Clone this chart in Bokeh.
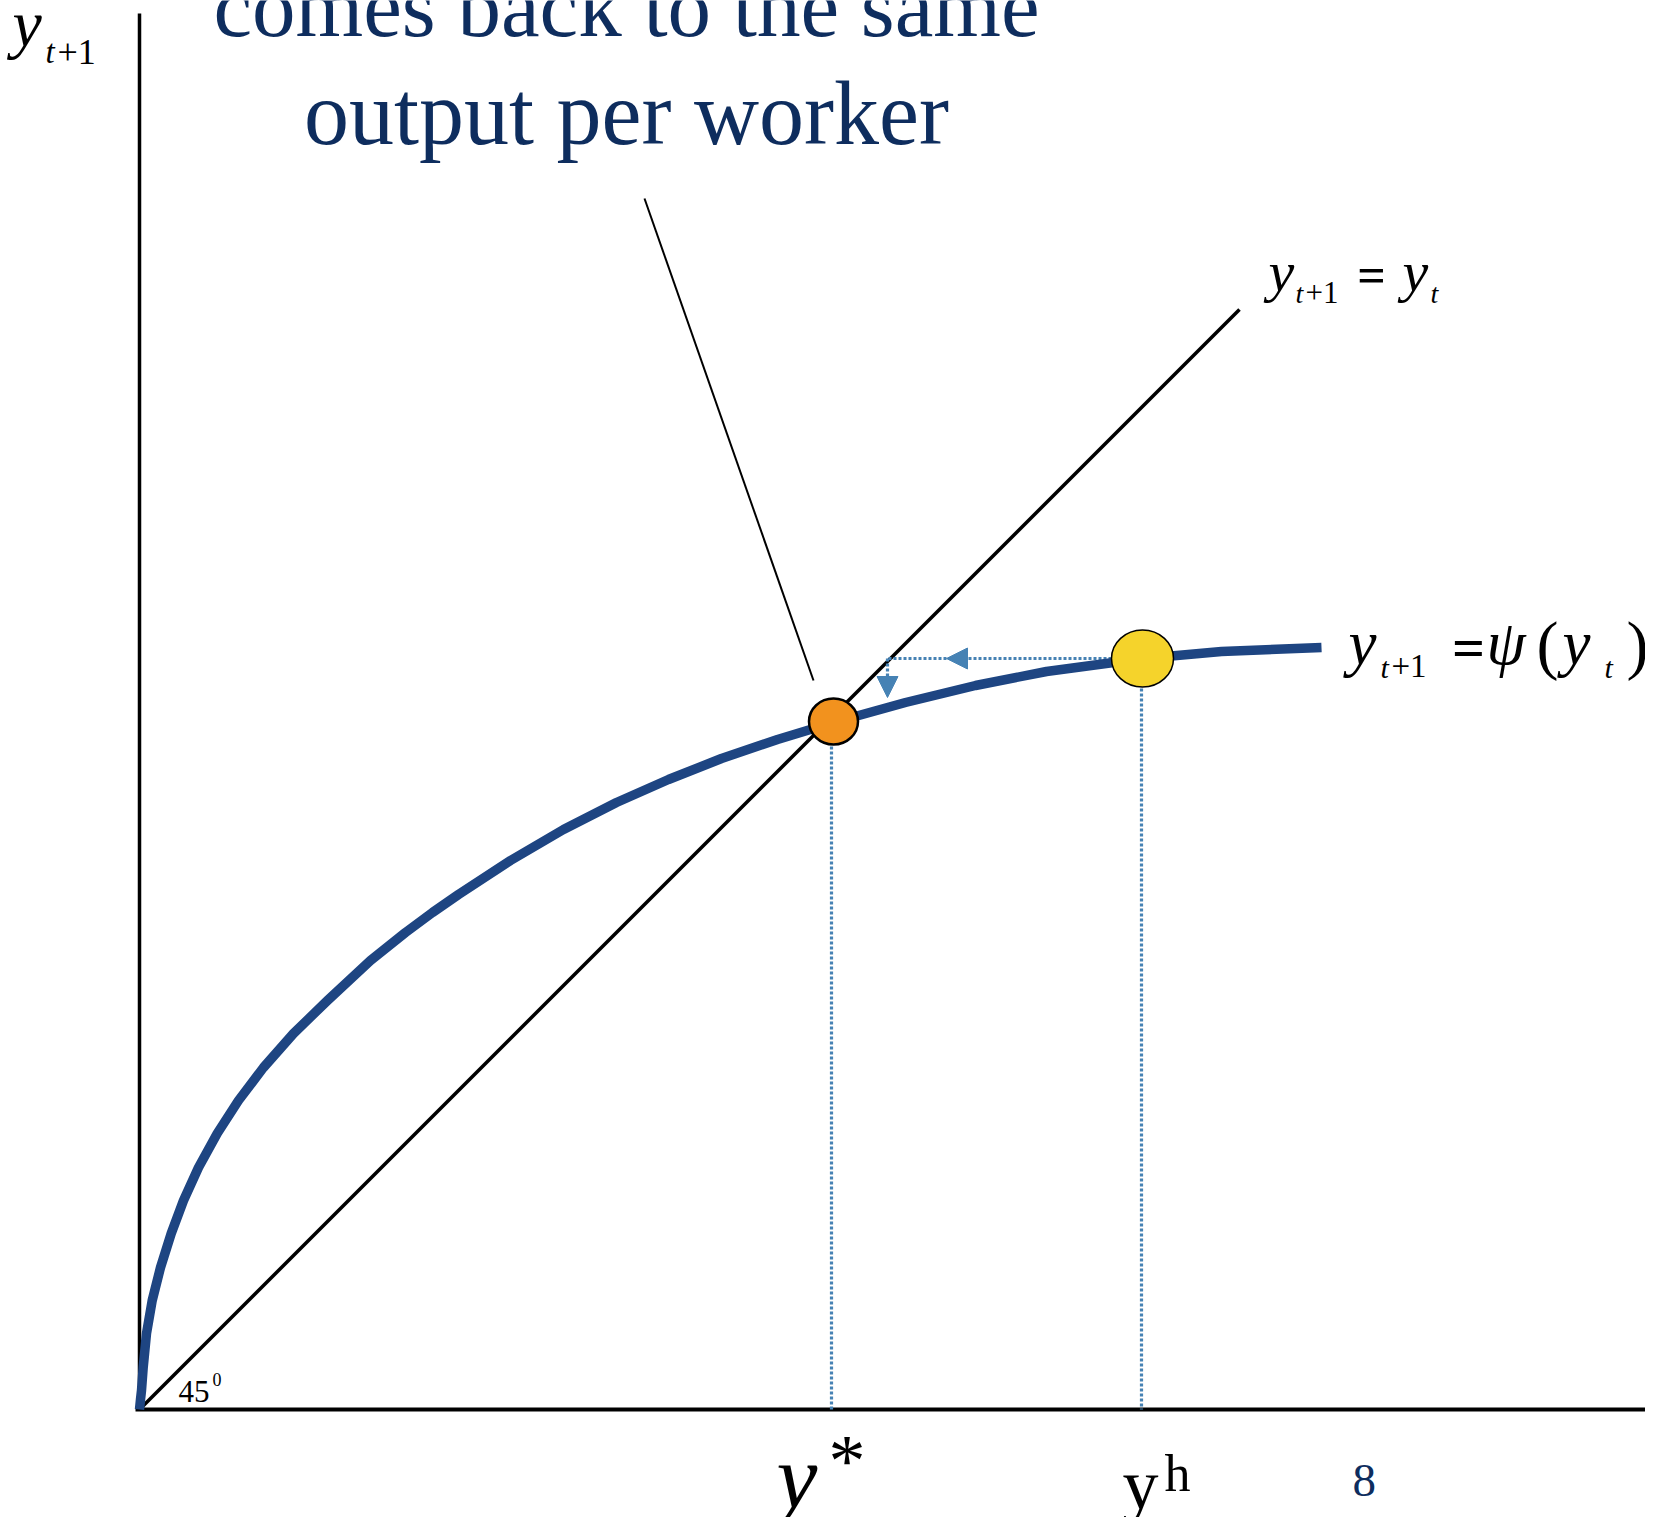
from bokeh.plotting import figure
from bokeh.models import Range1d, Arrow, NormalHead
from bokeh.core.properties import value
from bokeh.embed import file_html
from bokeh.resources import INLINE

# ---------------- data (model units) ----------------
curve_x = [0.0, 0.01, 0.02, 0.037, 0.07, 0.127, 0.21, 0.317, 0.44, 0.59, 0.777, 0.99,
           1.24, 1.54, 1.88, 2.31, 2.66, 2.93, 3.19, 3.71, 4.24, 4.77, 5.29, 5.82,
           6.38, 6.94, 7.66, 8.36, 9.07, 10.04, 10.82, 11.82]
curve_y = [0.0, 0.10, 0.19, 0.42, 0.76, 1.09, 1.42, 1.76, 2.09, 2.42, 2.76, 3.09,
           3.42, 3.76, 4.09, 4.49, 4.77, 4.97, 5.15, 5.49, 5.80, 6.07, 6.30, 6.51,
           6.70, 6.87, 7.07, 7.24, 7.38, 7.51, 7.58, 7.62]
diag_end = 11.0               # end of 45-degree line y_{t+1} = y_t
ystar_x, ystar_y = 6.92, 6.88  # steady state y*
yh_x, yh_y = 10.02, 7.51       # shocked level y^h and psi(y^h)
next_x = 7.48                  # next-period output after the shock
down_tip_y = 7.12
axis_x_max, axis_y_max = 15.2, 13.96

# ---------------- layout helpers ----------------
OX, OY, S = 139, 1409, 100.0
def P(xp, yp):
    return (xp - OX) / S, (OY - yp) / S

W, H = 1645, 1517
x0, y1 = P(0, 0)
x1, y0 = P(W, H)

p = figure(width=W, height=H, x_range=Range1d(x0, x1), y_range=Range1d(y0, y1),
           x_axis_type=None, y_axis_type=None, toolbar_location=None,
           output_backend="svg", min_border=0)
p.grid.visible = False
p.outline_line_color = None
p.background_fill_color = "white"

NAVY = "#0E2D5E"
CURVE = "#1E4582"
DOT = "#4682B4"
SERIF = "Liberation Serif"

# axes
p.line([0, 0], [0, axis_y_max], line_color="black", line_width=3.5)
p.line([-0.04, axis_x_max], [0, 0], line_color="black", line_width=3.8)

# 45 degree line
p.line([0, diag_end], [0, diag_end], line_color="black", line_width=3.5)

# dotted guides
p.line([ystar_x, ystar_x], [ystar_y, 0], line_color=DOT, line_width=3.2, line_dash="3 2")
p.line([yh_x, yh_x], [yh_y, 0], line_color=DOT, line_width=3.2, line_dash="3 2")
p.line([yh_x, next_x], [yh_y, yh_y], line_color=DOT, line_width=3.2, line_dash="3 2")
p.line([next_x, next_x], [yh_y, down_tip_y + 0.2], line_color=DOT, line_width=3.2, line_dash="3 2")

# curve psi
p.line(curve_x, curve_y, line_color=CURVE, line_width=9.5, line_join="round")

# arrow heads
lx = P(946, 0)[0]
p.add_layout(Arrow(end=NormalHead(size=21, fill_color=DOT, line_color=DOT, line_width=1),
                   x_start=lx + 0.3, y_start=yh_y, x_end=lx, y_end=yh_y, line_alpha=0))
p.add_layout(Arrow(end=NormalHead(size=21, fill_color=DOT, line_color=DOT, line_width=1),
                   x_start=next_x, y_start=down_tip_y + 0.3, x_end=next_x, y_end=down_tip_y,
                   line_alpha=0))

# pointer line
ax, ay = P(644, 198)
bx, by = P(813, 680)
p.line([ax, bx], [ay, by], line_color="black", line_width=2)

# points
p.ellipse(x=[ystar_x + 0.02], y=[ystar_y], width=49, height=46, width_units="screen",
          height_units="screen", fill_color="#F2921E", line_color="black", line_width=2.5)
p.ellipse(x=[yh_x + 0.01], y=[yh_y], width=62, height=57, width_units="screen",
          height_units="screen", fill_color="#F5D32B", line_color="black", line_width=1.5)

BASE_FIX = 0.245  # em correction for rendered baseline position

def txt(xp, yp, s, size, style="normal", color="black", align="left", font=SERIF):
    x, y = P(xp, yp - BASE_FIX * size)
    p.text(x=[x], y=[y], text=[s], text_font=value(font), text_font_size=f"{size}px",
           text_font_style=style, text_color=color, text_align=align,
           text_baseline="alphabetic")

# title text
txt(626, 27, "comes back to the same", 87, color=NAVY, align="center")
txt(626, 135, "output per worker", 90, color=NAVY, align="center")

# y-axis label y_{t+1}
txt(12, 39, "y", 66, "italic")
txt(45, 60, "t", 33, "italic")
txt(57, 60, "+1", 36)

# 45-degree label
txt(178, 1399, "45", 31)
txt(212, 1383, "0", 18)

# y_{t+1} = y_t
txt(1268, 285, "y", 58, "italic")
txt(1295, 300, "t", 28, "italic")
txt(1305, 300, "+1", 31)
txt(1371, 287, "=", 50, "bold", align="center")
txt(1402, 285, "y", 58, "italic")
txt(1430, 300, "t", 28, "italic")

# y_{t+1} = psi(y_t)
txt(1348, 658, "y", 63, "italic")
txt(1380, 674, "t", 30, "italic")
txt(1391, 674, "+1", 33)
txt(1468, 661, "=", 58, "bold", align="center")
txt(1486, 658, "\u03c8", 63, "italic")
txt(1536, 660, "(", 66)
txt(1562, 658, "y", 63, "italic")
txt(1604, 674, "t", 30, "italic")
txt(1626, 660, ")", 66)

# x-axis labels
txt(776, 1499, "y", 92, "italic")
txt(828, 1479, "*", 74)
txt(1122, 1502, "y", 72)
txt(1164, 1486, "h", 52)
txt(1352, 1492, "8", 47, color=NAVY)

open("out.html", "w").write(file_html(p, INLINE))
